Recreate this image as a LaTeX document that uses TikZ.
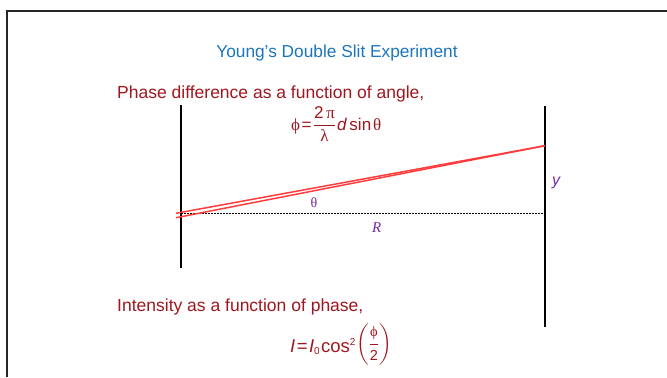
\documentclass[tikz,border=0pt]{standalone}
\usepackage{amsmath}
\usepackage{fontspec}
\setmainfont{Liberation Sans}
\newfontfamily\gk{Liberation Serif}
\definecolor{dred}{RGB}{160,22,30}
\definecolor{tblue}{RGB}{27,117,188}
\definecolor{purp}{RGB}{120,40,160}
\definecolor{rayred}{RGB}{255,60,60}
\begin{document}
\begin{tikzpicture}[x=1bp,y=-1bp,
  txt/.style={inner sep=0pt, anchor=base west, text=dred, font=\fontsize{17.5bp}{21bp}\selectfont},
  lbl/.style={inner sep=0pt, text=purp},
  screen/.style={line width=2bp, black},
  ray/.style={line width=1.5bp, rayred},
  axisline/.style={line width=1.8bp, black, dash pattern=on 1.6bp off 1.4bp},
  frameline/.style={line width=2bp, black!85}
]
\useasboundingbox (0,0) rectangle (667,377);
% frame
\coordinate (F1) at (6.5,377);
\coordinate (F2) at (6.5,10.5);
\coordinate (F3) at (667,10.5);
\draw[frameline] (F1) -- (F2) -- (F3);
% title
\node[inner sep=0pt, anchor=base, text=tblue, font=\fontsize{17.3bp}{21bp}\selectfont] (title) at (337,57) {Young's Double Slit Experiment};
% texts
\node[txt] (phase) at (117,98) {Phase difference as a function of angle,};
\node[txt] (inten) at (117,311) {Intensity as a function of phase,};
% equations
\node[txt, font=\fontsize{17bp}{20bp}\selectfont] (eqa) at (291,130)
  {$\hbox{\gk ϕ}\mkern1.5mu\hbox{=}\mkern1.5mu\genfrac{}{}{0.8bp}{0}{\hbox{2\,\gk π}}{\hbox{\gk λ}}\mkern1mu\hbox{\itshape d}\mkern3mu\hbox{sin}\mkern2mu\hbox{\gk θ}$};
\node[txt, font=\fontsize{18.5bp}{21bp}\selectfont] (eqb) at (290,352)
  {$\hbox{\itshape I}\mkern1.5mu\hbox{=}\mkern1.5mu\hbox{\itshape I}_{\hbox{\fontsize{10bp}{11bp}\selectfont 0}}\mkern1mu\hbox{cos}^{\hbox{\fontsize{10bp}{11bp}\selectfont 2}}\raisebox{3.5bp}{$\left(\genfrac{}{}{0.8bp}{0}{\hbox{\fontsize{14.5bp}{16bp}\selectfont\gk ϕ}}{\hbox{\fontsize{14.5bp}{16bp}\selectfont 2}}\right)$}$};
% screens
\coordinate (L1) at (180.7,105);
\coordinate (L2) at (180.7,268.3);
\coordinate (R1) at (545,106);
\coordinate (R2) at (545,327);
\draw[screen] (L1) -- (L2);
\draw[screen] (R1) -- (R2);
% axis
\coordinate (O) at (181,213.5);
\coordinate (Q) at (545,213.5);
\draw[axisline] (O) -- (Q);
% rays
\coordinate (S1) at (176,213.3);
\coordinate (S2) at (176,217.7);
\coordinate (P) at (545,145.7);
\draw[ray] (S1) -- (P);
\draw[ray] (S2) -- (P);
% labels
\node[lbl, font=\fontsize{14bp}{16bp}\selectfont\gk] (theta) at (314,202.7) {θ};
\node[lbl, font=\fontsize{15bp}{17bp}\selectfont\gk\itshape] (Rl) at (376.7,227.7) {R};
\node[lbl, font=\fontsize{16bp}{18bp}\selectfont\itshape] (yl) at (556,182.7) {y};
\end{tikzpicture}
\end{document}
